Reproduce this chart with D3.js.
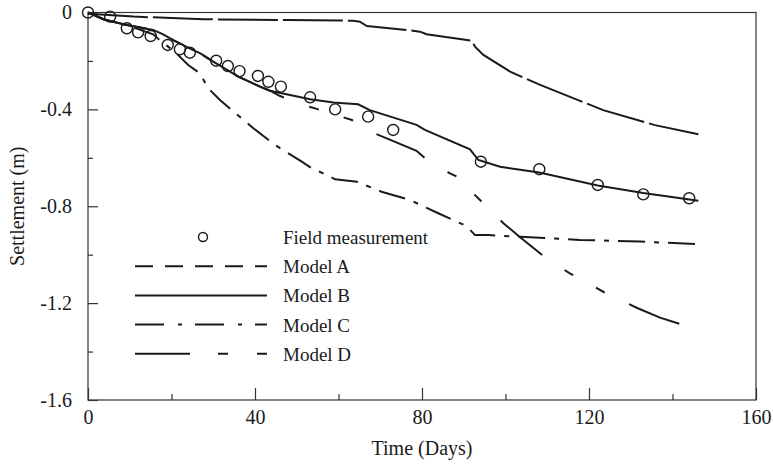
<!DOCTYPE html>
<html>
<head>
<meta charset="utf-8">
<script src="https://cdn.jsdelivr.net/npm/d3@7"></script>
<style>
  body { margin: 0; background: #fff; }
  text { font-family: "Liberation Serif", "Times New Roman", serif; fill: #1a1a1a; }
</style>
</head>
<body>
<svg width="773" height="467"></svg>
<script>
// field data
const fieldDays = [0, 5.3, 9.3, 12, 15, 19.1, 22, 24.4, 30.7, 33.5, 36.3, 40.7, 43.2, 46.2, 53.2, 59.2, 67.1, 73.1, 94.1, 108.1, 122.1, 133, 144];
const fieldSettlement = [0, -0.017, -0.065, -0.082, -0.097, -0.134, -0.152, -0.166, -0.199, -0.221, -0.242, -0.262, -0.286, -0.306, -0.35, -0.4, -0.43, -0.485, -0.616, -0.647, -0.712, -0.751, -0.767];

// model curves
const modelADays = [0, 10.9, 27.6, 47.6, 63.5, 65.1, 66.8, 76.3, 79.5, 81.1, 91.9, 92.7, 94.7, 101.1, 108.3, 123.4, 135.8, 146.2];
const modelAValues = [-0.005, -0.017, -0.028, -0.031, -0.034, -0.038, -0.056, -0.072, -0.079, -0.09, -0.116, -0.141, -0.175, -0.244, -0.299, -0.403, -0.465, -0.503];

const modelBDays = [0, 4, 9.3, 15.6, 18, 20.4, 25.2, 26.8, 30, 36, 41.2, 43.6, 53.2, 58.8, 64.7, 67.5, 78.7, 80.7, 91.5, 93.5, 98.7, 108.1, 122.1, 133, 146.2];
const modelBValues = [0, -0.03, -0.052, -0.072, -0.09, -0.114, -0.155, -0.168, -0.203, -0.265, -0.306, -0.323, -0.358, -0.372, -0.379, -0.403, -0.464, -0.485, -0.565, -0.609, -0.637, -0.661, -0.714, -0.745, -0.777];

const modelCDays = [0, 4, 9.3, 15.6, 17.2, 19.2, 21.2, 24, 26.8, 28.8, 31.6, 39.6, 44.8, 51.2, 53.6, 57.2, 59.2, 64.4, 70.3, 77.1, 83.9, 90.7, 92.7, 95.9, 103.5, 117.8, 132.2, 146.2];
const modelCValues = [0, -0.03, -0.052, -0.09, -0.114, -0.141, -0.169, -0.217, -0.251, -0.313, -0.361, -0.478, -0.547, -0.616, -0.643, -0.671, -0.689, -0.699, -0.74, -0.774, -0.829, -0.882, -0.919, -0.919, -0.926, -0.939, -0.946, -0.956];

const modelDDays = [0, 4, 9.3, 15.6, 18, 20.4, 25.2, 26.8, 30, 36, 41.2, 43.6, 46, 52.4, 54.4, 61.2, 63.2, 66, 69.1, 78.7, 80.7, 86.7, 88.7, 91, 92.7, 94.7, 99.5, 103.5, 109.5, 115.4, 123.4, 131.4, 137, 143.8];
const modelDValues = [0, -0.03, -0.052, -0.072, -0.09, -0.114, -0.155, -0.168, -0.203, -0.265, -0.306, -0.323, -0.345, -0.386, -0.396, -0.433, -0.444, -0.47, -0.502, -0.571, -0.602, -0.664, -0.68, -0.71, -0.754, -0.788, -0.87, -0.928, -1.011, -1.077, -1.153, -1.219, -1.26, -1.297];

const legendLabels = ["Field measurement", "Model A", "Model B", "Model C", "Model D"];
const xTicks = [0, 40, 80, 120, 160];
const xMinor = [20, 60, 100, 140];
const yTicks = [0, -0.4, -0.8, -1.2, -1.6];
const yMinor = [-0.2, -0.6, -1.0, -1.4];

const svg = d3.select("svg");

const x = d3.scaleLinear().domain([0, 160]).range([88, 756]);
const y = d3.scaleLinear().domain([0, -1.6]).range([12.5, 400]);

const ink = "#1a1a1a";

// frame
svg.append("rect")
   .attr("x", x(0)).attr("y", y(0))
   .attr("width", x(160) - x(0)).attr("height", y(-1.6) - y(0))
   .attr("fill", "none").attr("stroke", "#333").attr("stroke-width", 1.2);

// axes
function styleAxis(g){
  g.select(".domain").remove();
  g.selectAll("line").attr("stroke", "#333").attr("stroke-width", 1.2);
  g.selectAll("text").attr("font-size", 20).attr("fill", ink)
   .style("font-family", "'Liberation Serif', 'Times New Roman', serif");
}

svg.append("g").attr("transform", "translate(0,400)")
   .call(d3.axisBottom(x).tickValues(xTicks).tickSize(-12).tickPadding(10).tickFormat(d3.format("d")))
   .call(styleAxis);
svg.append("g").attr("transform", "translate(0,400)")
   .call(d3.axisBottom(x).tickValues(xMinor).tickSize(-6).tickFormat(""))
   .call(styleAxis);

svg.append("g").attr("transform", "translate(88,0)")
   .call(d3.axisLeft(y).tickValues(yTicks).tickSize(-10).tickPadding(16)
     .tickFormat(d => d === 0 ? "0" : d3.format(".1f")(d).replace("−", "-")))
   .call(styleAxis);
svg.append("g").attr("transform", "translate(88,0)")
   .call(d3.axisLeft(y).tickValues(yMinor).tickSize(-5).tickFormat(""))
   .call(styleAxis);

// axis titles
svg.append("text")
   .attr("x", x(80)).attr("y", 455)
   .attr("text-anchor", "middle").attr("font-size", 20)
   .text("Time (Days)");
svg.append("text")
   .attr("transform", "translate(24," + y(-0.8) + ") rotate(-90)")
   .attr("text-anchor", "middle").attr("font-size", 20)
   .text("Settlement (m)");

// length of polyline up to a given day (to line the dash pattern up)
function lengthTo(days, vals, day){
  let len = 0;
  for (let i = 1; i < days.length && days[i] <= day; i++) {
    len += Math.hypot(x(days[i]) - x(days[i-1]), y(vals[i]) - y(vals[i-1]));
  }
  return len;
}
const dPeriod = 54 + 27 + 10 + 26 + 10 + 27;
const dOffset = dPeriod - (lengthTo(modelDDays, modelDValues, 69.1) % dPeriod);

// model lines
const line = d3.line().x(d => x(d[0])).y(d => y(d[1]));
const models = [
  { days: modelADays, vals: modelAValues, dash: "60,5", offset: 0 },
  { days: modelCDays, vals: modelCValues, dash: "27,9,5,9", offset: 0 },
  { days: modelDDays, vals: modelDValues, dash: "54,27,10,26,10,27", offset: dOffset },
  { days: modelBDays, vals: modelBValues, dash: null, offset: 0 }
];

svg.append("g").selectAll("path")
   .data(models)
   .enter()
   .append("path")
   .attr("d", m => line(m.days.map((d, i) => [d, m.vals[i]])))
   .attr("fill", "none")
   .attr("stroke", ink)
   .attr("stroke-width", 2)
   .attr("stroke-dasharray", m => m.dash)
   .attr("stroke-dashoffset", m => m.offset);

// field measurement circles
svg.append("g").selectAll("circle")
   .data(fieldDays.map((d, i) => [d, fieldSettlement[i]]))
   .enter()
   .append("circle")
   .attr("cx", d => x(d[0]))
   .attr("cy", d => y(d[1]))
   .attr("r", 5.5)
   .attr("fill", "none")
   .attr("stroke", ink)
   .attr("stroke-width", 1.4);

// legend
const legendDash = [null, "18,12", null, "29,14,4,13", "55,28,10,29,10"];
const legend = svg.append("g").attr("id", "legend");
legendLabels.forEach((label, i) => {
  const ly = 237 + i * 29.2;
  if (i === 0) {
    legend.append("circle")
      .attr("cx", 203).attr("cy", ly).attr("r", 4.5)
      .attr("fill", "none").attr("stroke", ink).attr("stroke-width", 1.4);
  } else {
    legend.append("line")
      .attr("x1", 135).attr("x2", 267).attr("y1", ly).attr("y2", ly)
      .attr("stroke", ink).attr("stroke-width", 2)
      .attr("stroke-dasharray", legendDash[i]);
  }
  legend.append("text")
    .attr("x", 283).attr("y", ly + 7)
    .attr("font-size", 19)
    .text(label);
});
</script>
</body>
</html>
